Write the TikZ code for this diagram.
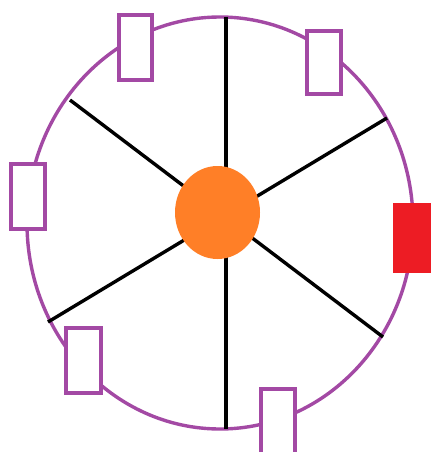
\documentclass[tikz,border=0pt]{standalone}
\usetikzlibrary{shapes.geometric}
\definecolor{ppurple}{RGB}{163,73,164}
\definecolor{pred}{RGB}{237,28,36}
\definecolor{porange}{RGB}{255,127,39}
\tikzset{
  rim/.style={draw=ppurple, line width=3.4pt},
  spoke/.style={draw=black, line width=3.4pt},
  seat/.style={draw=ppurple, fill=white, line width=3.8pt, rectangle, inner sep=0pt},
  seatred/.style={draw=pred, fill=pred, line width=1pt, rectangle, inner sep=0pt},
}
\begin{document}
\begin{tikzpicture}[x=1pt,y=-1pt]
\useasboundingbox[fill=white] (0,0) rectangle (431,452);
\begin{scope}
\clip (0,0) rectangle (431,452);
% rim
\draw[rim] (220,223) ellipse [x radius=193, y radius=206];
% spoke endpoints
\coordinate (t) at (226,17);
\coordinate (b) at (226,429);
\coordinate (ul) at (70,100);
\coordinate (lr) at (383,337);
\coordinate (ur) at (387,118);
\coordinate (ll) at (48,322);
\draw[spoke] (t) -- (b);
\draw[spoke] (ul) -- (lr);
\draw[spoke] (ur) -- (ll);
% hub
\node[ellipse, fill=porange, minimum width=85pt, minimum height=93pt, inner sep=0pt] (hub) at (217.5,212.5) {};
% seats
\node[seat, minimum width=33pt, minimum height=65pt] (s1) at (135.5,47.5) {};
\node[seat, minimum width=34pt, minimum height=63pt] (s2) at (324,62.5) {};
\node[seat, minimum width=34pt, minimum height=65pt] (s3) at (28,196.5) {};
\node[seatred, minimum width=37pt, minimum height=69pt] (s4) at (411.5,237.5) {};
\node[seat, minimum width=35pt, minimum height=65pt] (s5) at (83.5,360.5) {};
\node[seat, minimum width=34pt, minimum height=65pt] (s6) at (278,421.5) {};
\end{scope}
\end{tikzpicture}
\end{document}
